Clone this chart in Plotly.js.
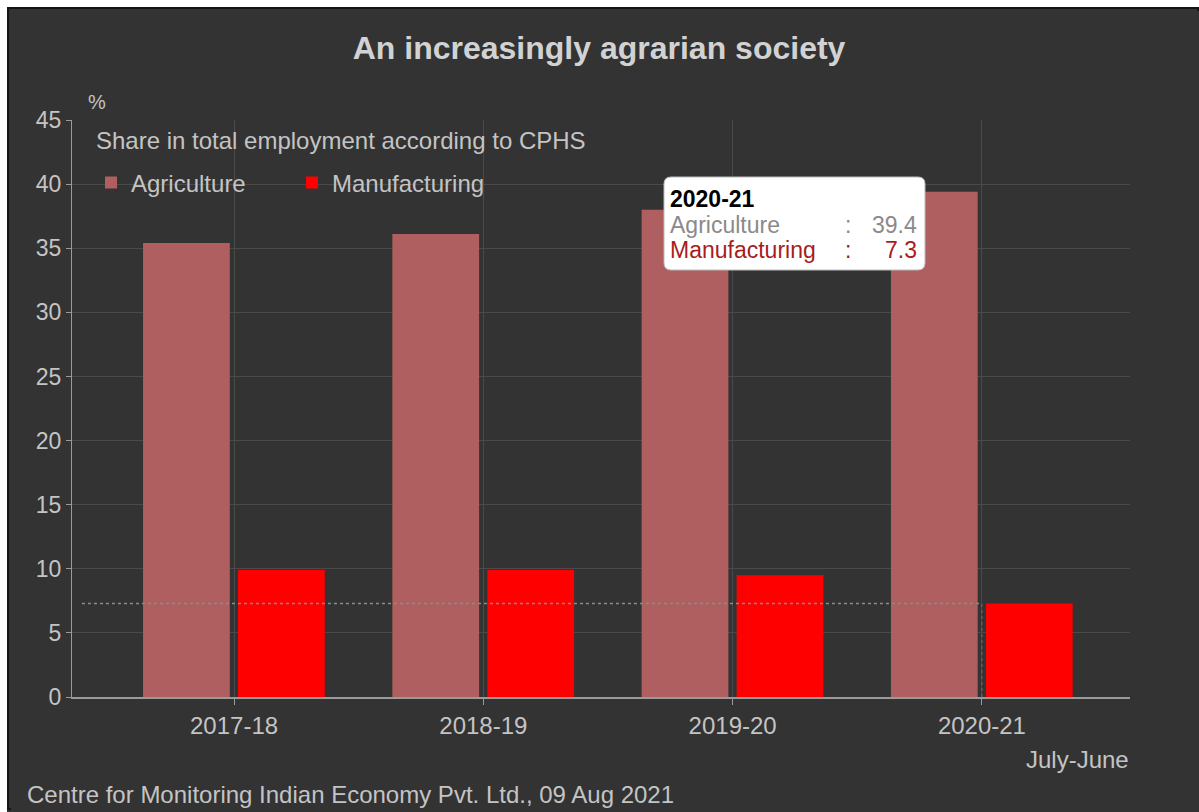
<!DOCTYPE html>
<html>
<head>
<meta charset="utf-8">
<script src="https://cdn.plot.ly/plotly-3.0.1.min.js"></script>
<style>
  html, body { margin: 0; padding: 0; width: 1199px; height: 812px; background: #333333; overflow: hidden; }
  #topband { position: absolute; left: 0; top: 0; width: 1199px; height: 7px; background: #ffffff; }
  #leftband { position: absolute; left: 0; top: 0; width: 7px; height: 812px; background: #ffffff; }
  #frame { position: absolute; left: 7px; top: 7px; width: 1192px; height: 803px; border: 2px solid #151515; box-sizing: border-box; background: #333333; }
  #chart { position: absolute; left: 2px; top: 2px; width: 1188px; height: 799px; }
</style>
</head>
<body>
<div id="topband"></div>
<div id="leftband"></div>
<div id="frame"><div id="chart"></div></div>
<script>
const categories = ['2017-18', '2018-19', '2019-20', '2020-21'];
const agriculture = [35.4, 36.1, 38.0, 39.4];
const manufacturing = [9.9, 9.9, 9.5, 7.3];
const yTicks = [0, 5, 10, 15, 20, 25, 30, 35, 40, 45];

const hoverIdx = 3;
const FONT = 'Liberation Sans, Arial, sans-serif';
const AGRI = '#af5f5f';
const MANU = '#ff0000';
const TXT = '#c4c4c4';

const idx = categories.map((c, i) => i);

const traces = [
  {
    type: 'bar', name: 'Agriculture', x: idx, y: agriculture,
    width: 0.348, offset: -0.365,
    marker: { color: AGRI, line: { width: 0 } }, hoverinfo: 'skip'
  },
  {
    type: 'bar', name: 'Manufacturing', x: idx, y: manufacturing,
    width: 0.348, offset: 0.016,
    marker: { color: MANU, line: { width: 0 } }, hoverinfo: 'skip'
  }
];

// paper conversions from page px (plot left=70, right=1128, top=118, bottom=695)
const px = v => (v - 70) / 1058;
const py = v => (695 - v) / 577;

function roundRect(x0, y0, x1, y1, r) {
  const X0 = px(x0), X1 = px(x1), Y0 = py(y0), Y1 = py(y1);
  const rx = r / 1058, ry = r / 577;
  return `M${X0 + rx},${Y0} L${X1 - rx},${Y0} Q${X1},${Y0} ${X1},${Y0 - ry} L${X1},${Y1 + ry} Q${X1},${Y1} ${X1 - rx},${Y1} L${X0 + rx},${Y1} Q${X0},${Y1} ${X0},${Y1 + ry} L${X0},${Y0 - ry} Q${X0},${Y0} ${X0 + rx},${Y0} Z`;
}

function ann(text, x, y, xanchor, size, color) {
  return { text: text, xref: 'paper', yref: 'paper', x: px(x), y: py(y), xanchor: xanchor, yanchor: 'middle',
    showarrow: false, font: { family: FONT, size: size, color: color } };
}

const layout = {
  width: 1188, height: 799,
  paper_bgcolor: '#333333', plot_bgcolor: '#333333',
  margin: { l: 61, r: 69, t: 109, b: 113 },
  barmode: 'overlay',
  showlegend: true,
  title: {
    text: 'An increasingly agrarian society',
    font: { family: FONT, size: 32, color: '#d2d2d2', weight: 'bold' },
    x: 0.495, xref: 'container', xanchor: 'center',
    y: 0.9537, yref: 'container', yanchor: 'middle'
  },
  legend: {
    orientation: 'h', x: px(89), xanchor: 'left', y: py(181), yanchor: 'middle',
    font: { family: FONT, size: 24, color: TXT },
    bgcolor: 'rgba(0,0,0,0)', entrywidth: 156, traceorder: 'normal'
  },
  xaxis: {
    type: 'linear', range: [-0.65, 3.594],
    tickmode: 'array', tickvals: idx, ticktext: categories,
    showgrid: true, gridcolor: '#4a4a4a', gridwidth: 1,
    zeroline: false, showline: true, linecolor: '#9a9a9a', linewidth: 2,
    ticks: 'outside', ticklen: 6, tickcolor: '#9a9a9a', tickwidth: 1,
    tickfont: { family: FONT, size: 24, color: TXT },
    fixedrange: true
  },
  yaxis: {
    range: [0, 45], tickmode: 'array', tickvals: yTicks,
    showgrid: true, gridcolor: '#4a4a4a', gridwidth: 1,
    zeroline: false, showline: true, linecolor: '#9a9a9a', linewidth: 1,
    ticks: 'outside', ticklen: 5, tickcolor: '#9a9a9a',
    tickfont: { family: FONT, size: 23, color: TXT },
    fixedrange: true
  },
  shapes: [
    { type: 'line', xref: 'x', yref: 'y', x0: -0.61, x1: hoverIdx, y0: manufacturing[hoverIdx], y1: manufacturing[hoverIdx],
      line: { color: '#8c8c8c', width: 1.5, dash: 'dot' }, layer: 'above' },
    { type: 'line', xref: 'x', yref: 'y', x0: hoverIdx, x1: hoverIdx, y0: 0, y1: manufacturing[hoverIdx],
      line: { color: '#8c6060', width: 1, dash: 'dot' }, layer: 'above' },
    { type: 'path', xref: 'paper', yref: 'paper', path: roundRect(662, 175, 923, 268, 7),
      fillcolor: '#ffffff', line: { color: '#bbbbbb', width: 1 }, layer: 'above' }
  ],
  annotations: [
    ann('%', 84, 100, 'left', 20, TXT),
    ann('Share in total employment according to CPHS', 92, 138, 'left', 24, TXT),
    ann('July-June', 1129, 757, 'right', 24, TXT),
    ann('Centre for Monitoring Indian Economy Pvt. Ltd., 09 Aug 2021', 23, 792, 'left', 24, TXT),
    // tooltip
    ann('<b>' + categories[hoverIdx] + '</b>', 666, 197, 'left', 23, '#000000'),
    ann('Agriculture', 666, 223, 'left', 23, '#8a8a8a'),
    ann(':', 846, 223, 'center', 23, '#8a8a8a'),
    ann(agriculture[hoverIdx].toFixed(1), 917, 223, 'right', 23, '#8a8a8a'),
    ann('Manufacturing', 666, 248, 'left', 23, '#a81c1c'),
    ann(':', 846, 248, 'center', 23, '#a81c1c'),
    ann(manufacturing[hoverIdx].toFixed(1), 917, 248, 'right', 23, '#a81c1c')
  ]
};

Plotly.newPlot('chart', traces, layout, { displayModeBar: false, staticPlot: true });
</script>
</body>
</html>
